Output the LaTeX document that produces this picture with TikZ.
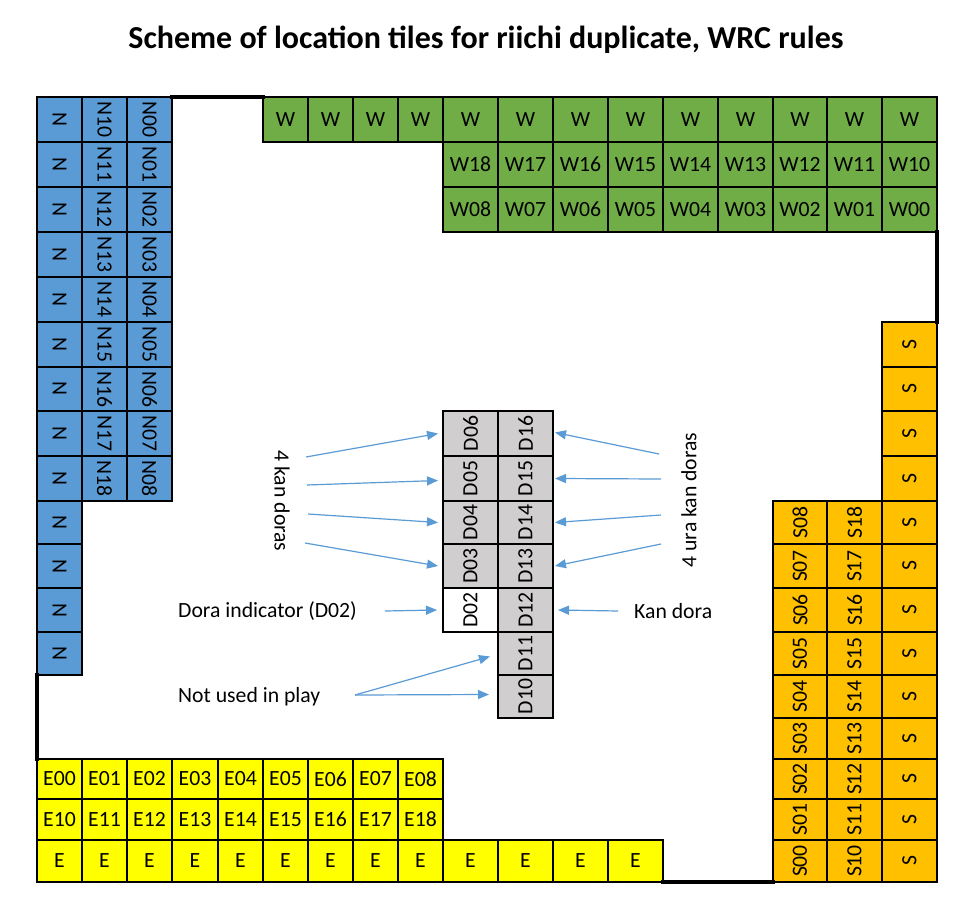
\documentclass[tikz,border=0pt]{standalone}
\usepackage{fontspec}
\setmainfont{Carlito}
\usepackage{graphicx}
\usetikzlibrary{arrows.meta}
\definecolor{nblue}{HTML}{5B9BD5}
\definecolor{wgreen}{HTML}{70AD47}
\definecolor{sorange}{HTML}{FFC000}
\definecolor{eyellow}{HTML}{FFFF00}
\definecolor{dgrey}{HTML}{D0CECE}
\definecolor{arrowblue}{HTML}{5B9BD5}
\def\XC{{37,82,127,172,218,263,308,353,398,443,498,553,608,663,718,773,827,882,937}}
\def\YR{{97,142,187,232,277,322,367,411,456,501,544,588,632,675,718,759,799,840,882}}
\newcommand\tilecell[6]{%
  \pgfmathsetmacro\xa{\XC[#2]}%
  \pgfmathsetmacro\xb{\XC[#2+1]}%
  \pgfmathsetmacro\ya{\YR[#3]}%
  \pgfmathsetmacro\yb{\YR[#3+1]}%
  \pgfmathsetmacro\ww{\xb-\xa}%
  \pgfmathsetmacro\hh{\yb-\ya}%
  \pgfmathsetmacro\xm{(\xa+\xb)/2}%
  \pgfmathsetmacro\ym{(\ya+\yb)/2}%
  \node[tilebox, fill=#4, minimum width=\ww pt, minimum height=\hh pt] (#1) at (\xm,\ym) {\rotatebox{#5}{#6}};%
}
\tikzset{
  tilebox/.style={draw=black, line width=1.5pt, inner sep=0pt, outer sep=0pt, font=\fontsize{21.7}{26}\selectfont},
  borderline/.style={draw=black, line width=3.5pt, line cap=rect},
  bluearrow/.style={draw=arrowblue, line width=1.2pt, -{Triangle[length=11pt,width=9pt]}},
  labeltext/.style={inner sep=0pt, font=\fontsize{21.7}{26}\selectfont},
}
\begin{document}
\begin{tikzpicture}[x=1pt,y=-1pt]
\fill[white] (0,0) rectangle (965,917);
\useasboundingbox (0,0) rectangle (965,917);
\node[inner sep=0pt, font=\fontsize{32}{38}\selectfont\bfseries] (title) at (486,40) {Scheme of location tiles for riichi duplicate, WRC rules};
% North
\foreach \r in {0,...,12} {\tilecell{Na\r}{0}{\r}{nblue}{-90}{N}}
\foreach \r in {0,...,8} {\tilecell{N1\r}{1}{\r}{nblue}{-90}{N1\r}\tilecell{N0\r}{2}{\r}{nblue}{-90}{N0\r}}
% West
\foreach \c in {5,...,17} {\tilecell{Wt\c}{\c}{0}{wgreen}{0}{W}}
\foreach \c [evaluate=\c as \k using int(17-\c)] in {9,...,17} {\tilecell{W1\k}{\c}{1}{wgreen}{0}{W1\k}\tilecell{W0\k}{\c}{2}{wgreen}{0}{W0\k}}
% South
\foreach \r in {5,...,17} {\tilecell{Sc\r}{17}{\r}{sorange}{90}{S}}
\foreach \r [evaluate=\r as \k using int(17-\r)] in {9,...,17} {\tilecell{S0\k}{15}{\r}{sorange}{90}{S0\k}\tilecell{S1\k}{16}{\r}{sorange}{90}{S1\k}}
% East
\foreach \c in {0,...,8} {\tilecell{E0\c}{\c}{15}{eyellow}{0}{E0\c}\tilecell{E1\c}{\c}{16}{eyellow}{0}{E1\c}}
\foreach \c in {0,...,12} {\tilecell{Eb\c}{\c}{17}{eyellow}{0}{E}}
% Dead wall
\foreach \r [evaluate=\r as \k using int(13-\r)] in {7,...,10} {\tilecell{D0\k}{9}{\r}{dgrey}{90}{D0\k}}
\tilecell{D02}{9}{11}{white}{90}{D02}
\foreach \r [evaluate=\r as \k using int(13-\r)] in {7,...,13} {\tilecell{D1\k}{10}{\r}{dgrey}{90}{D1\k}}
% thick borders
\draw[borderline] (N00.north east) -- (Wt5.north west);
\draw[borderline] (W00.south east) -- (Sc5.north east);
\draw[borderline] (Eb12.south east) -- (S00.south west);
\draw[borderline] (Na12.south west) -- (E00.north west);
% labels
\node[labeltext, rotate=-90] (kan) at (282,501) {4 kan doras};
\node[labeltext, rotate=90] (ura) at (689,500) {4 ura kan doras};
\node[labeltext, anchor=west] (dora) at (178,611) {Dora indicator (D02)};
\node[labeltext, anchor=west] (kandora) at (634,611) {Kan dora};
\node[labeltext, anchor=west] (notused) at (178,697) {Not used in play};
% arrow starts
\coordinate (kl1) at (306,457);
\coordinate (kl2) at (307,485);
\coordinate (kl3) at (308,514);
\coordinate (kl4) at (305,543);
\coordinate (kr1) at (659,454);
\coordinate (kr2) at (661,479);
\coordinate (kr3) at (661,515);
\coordinate (kr4) at (661,544);
\coordinate (ds) at (385,611);
\coordinate (ks) at (618,611);
\coordinate (ns) at (355,695);
\draw[bluearrow] (kl1) -- ([xshift=-5pt]D06.west);
\draw[bluearrow] (kl2) -- ([xshift=-5pt,yshift=-2pt]D05.west);
\draw[bluearrow] (kl3) -- ([xshift=-5pt]D04.west);
\draw[bluearrow] (kl4) -- ([xshift=-5pt]D03.west);
\draw[bluearrow] (kr1) -- ([xshift=2pt,yshift=1pt]D16.east);
\draw[bluearrow] (kr2) -- ([xshift=2pt]D15.east);
\draw[bluearrow] (kr3) -- ([xshift=2pt]D14.east);
\draw[bluearrow] (kr4) -- ([xshift=2pt]D13.east);
\draw[bluearrow] (ds) -- ([xshift=-6pt]D02.west);
\draw[bluearrow] (ks) -- ([xshift=5pt]D12.east);
\draw[bluearrow] (ns) -- ([xshift=-8pt,yshift=-3pt]D11.west);
\draw[bluearrow] (ns) -- ([xshift=-9pt,yshift=2pt]D10.west);
\end{tikzpicture}
\end{document}
